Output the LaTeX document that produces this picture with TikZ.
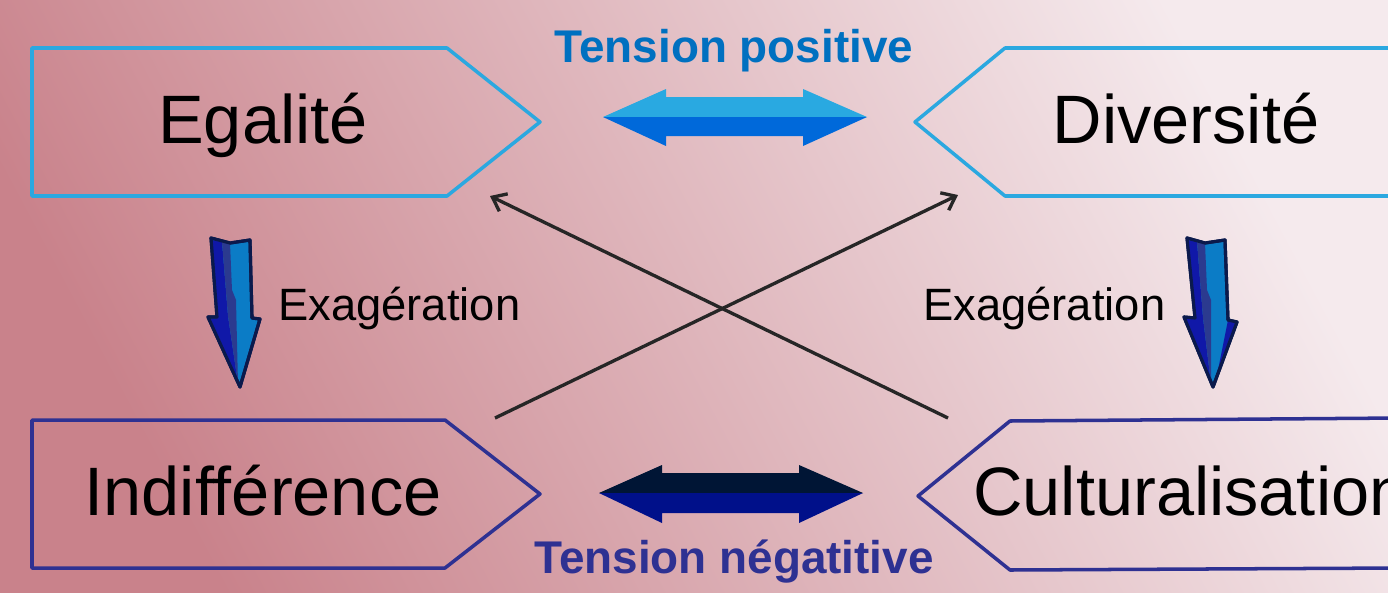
\documentclass[tikz,border=0pt]{standalone}
\usepackage{fontspec}
\setmainfont{Liberation Sans}
\usetikzlibrary{arrows.meta}
\definecolor{bgdark}{HTML}{C9828B}
\definecolor{bglight}{HTML}{F5EAED}
\definecolor{topborder}{HTML}{2BA8E0}
\definecolor{botborder}{HTML}{2E3192}
\definecolor{poslight}{HTML}{29A9E1}
\definecolor{posdark}{HTML}{0069DA}
\definecolor{negdark}{HTML}{001535}
\definecolor{neglow}{HTML}{00108A}
\definecolor{postext}{HTML}{0070C0}
\definecolor{negtext}{HTML}{2E3192}
\definecolor{arrline}{HTML}{0B1A4C}
\definecolor{arrlight}{HTML}{0B7CC6}
\definecolor{arrdeep}{HTML}{1018A8}
\definecolor{arrmid}{HTML}{2B3A8F}
\begin{document}
\begin{tikzpicture}[x=0.02cm,y=-0.02cm,
  boxtop/.style={draw=topborder,line width=2pt,line join=round},
  boxbot/.style={draw=botborder,line width=2pt,line join=round},
  big/.style={font=\fontsize{39}{44}\selectfont,text=black,inner sep=0pt},
  mid/.style={font=\fontsize{25.8}{30}\selectfont,text=black,inner sep=0pt},
  lbl/.style={font=\bfseries\fontsize{26.1}{30}\selectfont,inner sep=0pt},
  cross/.style={draw=black!85,line width=1.9pt,-{Straight Barb[length=7pt,width=11pt,line width=1.9pt]}},
  downarr/.style={draw=arrline,line width=1.8pt,line join=round,fill=arrlight}
]
\useasboundingbox (0,0) rectangle (1388,592);
\shade[top color=bglight,bottom color=bgdark,shading angle=-62] (0,0) rectangle (1388,592);

% boxes
\draw[boxtop] (32,48) -- (447,48) -- (540,122) -- (447,196) -- (32,196) -- cycle;
\draw[boxtop] (1400,48) -- (1005,48) -- (915,122) -- (1005,196) -- (1400,196);
\draw[boxbot] (32,420) -- (445,420) -- (540,494) -- (445,568) -- (32,568) -- cycle;
\draw[boxbot] (1400,418) -- (1010,421) -- (918,496) -- (1010,570) -- (1400,568);

\node[big,anchor=base] (ega) at (263,143) {Egalité};
\node[big,anchor=base] (div) at (1186,143) {Diversité};
\node[big,anchor=base] (ind) at (263,515) {Indifférence};
\node[big,anchor=base west] (cul) at (973,515) {Culturalisation};

% labels
\node[lbl,text=postext,anchor=base] (tp) at (734,62) {Tension positive};
\node[lbl,text=negtext,anchor=base] (tn) at (734,573) {Tension négatitive};
\node[mid,anchor=base west] (ex1) at (278,320) {Exagération};
\node[mid,anchor=base west] (ex2) at (923,320) {Exagération};

% positive double arrow
\fill[poslight] (603,117) -- (666,89) -- (666,97) -- (803,97) -- (803,89) -- (867,117) -- cycle;
\fill[posdark] (603,117) -- (666,146) -- (666,136) -- (803,136) -- (803,146) -- (867,117) -- cycle;
% negative double arrow
\fill[negdark] (599,493) -- (662,465) -- (662,473) -- (799,473) -- (799,465) -- (863,493) -- cycle;
\fill[neglow] (599,493) -- (662,523) -- (662,513) -- (799,513) -- (799,523) -- (863,493) -- cycle;

% down arrows
\path[downarr] (211,238) -- (230,243) -- (250,240) -- (252,318) -- (260,319) -- (240,387) -- (208,317) -- (217,317) -- cycle;
\fill[arrdeep] (212,240) -- (222,242) -- (228,316) -- (238,384) -- (210,319) -- (218,318) -- cycle;
\fill[arrmid] (222,242) -- (230,243) -- (232,290) -- (236,300) -- (238,384) -- (228,316) -- cycle;
\draw[arrline,line width=1.8pt,line join=round] (211,238) -- (230,243) -- (250,240) -- (252,318) -- (260,319) -- (240,387) -- (208,317) -- (217,317) -- cycle;

\path[downarr] (1187,238) -- (1205,243) -- (1225,240) -- (1228,320) -- (1237,322) -- (1213,387) -- (1184,317) -- (1195,318) -- cycle;
\fill[arrdeep] (1188,240) -- (1197,242) -- (1203,318) -- (1211,384) -- (1186,319) -- (1196,319) -- cycle;
\fill[arrmid] (1197,242) -- (1205,243) -- (1207,290) -- (1211,300) -- (1211,384) -- (1203,318) -- cycle;
\fill[arrdeep] (1228,320) -- (1237,322) -- (1216,380) -- cycle;
\draw[arrline,line width=1.8pt,line join=round] (1187,238) -- (1205,243) -- (1225,240) -- (1228,320) -- (1237,322) -- (1213,387) -- (1184,317) -- (1195,318) -- cycle;

% crossing connectors
\coordinate (indout) at (495,418);
\coordinate (divin) at (958,195);
\coordinate (culout) at (948,418);
\coordinate (egain) at (490,196);
\draw[cross] (indout) -- (divin);
\draw[cross] (culout) -- (egain);
\end{tikzpicture}
\end{document}
